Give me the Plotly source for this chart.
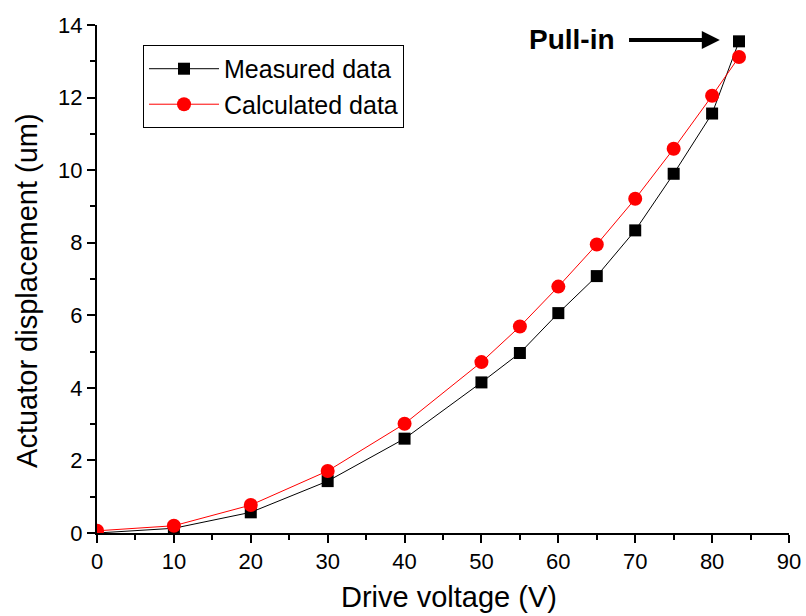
import plotly.graph_objects as go

voltage_measured = [0, 10, 20, 30, 40, 50, 55, 60, 65, 70, 75, 80, 83.5]
disp_measured = [0.0, 0.13, 0.57, 1.43, 2.6, 4.15, 4.96, 6.06, 7.08, 8.34, 9.9, 11.56, 13.55]
voltage_calc = [0, 10, 20, 30, 40, 50, 55, 60, 65, 70, 75, 80, 83.5]
disp_calc = [0.06, 0.2, 0.77, 1.71, 3.01, 4.71, 5.69, 6.79, 7.95, 9.21, 10.59, 12.05, 13.12]

FONT = "Liberation Sans, Arial, sans-serif"

fig = go.Figure()
fig.add_trace(go.Scatter(
    x=voltage_measured, y=disp_measured, name="Measured data",
    mode="lines+markers",
    line=dict(color="black", width=1),
    marker=dict(symbol="square", size=12, color="black"),
))
fig.add_trace(go.Scatter(
    x=voltage_calc, y=disp_calc, name="Calculated data",
    mode="lines+markers",
    line=dict(color="red", width=1),
    marker=dict(symbol="circle", size=14, color="red"),
))

axis_common = dict(
    showline=True, linecolor="black", linewidth=2,
    ticks="outside", ticklen=8, tickwidth=2, tickcolor="black",
    showgrid=False, zeroline=False, mirror=False,
    tickfont=dict(family=FONT, size=22, color="black"),
    minor=dict(ticks="outside", ticklen=5, tickwidth=2, tickcolor="black"),
)
fig.update_xaxes(range=[0, 90], dtick=10, minor_dtick=5, automargin=False, **axis_common)
fig.update_yaxes(range=[0, 14], dtick=2, minor_dtick=1, automargin=False, **axis_common)

# axis titles
fig.add_annotation(x=0.508, y=-0.125, xref="paper", yref="paper", text="Drive voltage (V)",
                   showarrow=False, xanchor="center", yanchor="middle",
                   font=dict(family=FONT, size=29, color="black"))
fig.add_annotation(x=-0.101, y=0.4767, xref="paper", yref="paper", text="Actuator displacement (um)",
                   showarrow=False, xanchor="center", yanchor="middle", textangle=-90,
                   font=dict(family=FONT, size=29, color="black"))

# Pull-in annotation
fig.add_annotation(x=81.0, y=13.59, ax=69.0, ay=13.59, xref="x", yref="y", axref="x", ayref="y",
                   text="", showarrow=True, arrowhead=2, arrowsize=0.9, arrowwidth=4, arrowcolor="black")
fig.add_annotation(x=61.8, y=13.59, xref="x", yref="y", text="<b>Pull-in</b>", showarrow=False,
                   font=dict(family=FONT, size=28, color="black"))

fig.update_layout(
    width=806, height=616,
    margin=dict(l=97, r=17, t=25, b=83),
    plot_bgcolor="white", paper_bgcolor="white",
    legend=dict(x=0.0665, y=0.9607, xanchor="left", yanchor="top",
                bordercolor="black", borderwidth=1, bgcolor="white",
                font=dict(family=FONT, size=25, color="black"),
                itemwidth=70, tracegroupgap=0),
    showlegend=True,
)

fig.write_html("out.html", config={"displayModeBar": False},
               post_script="document.body.style.margin='0';document.body.style.overflow='hidden';")
